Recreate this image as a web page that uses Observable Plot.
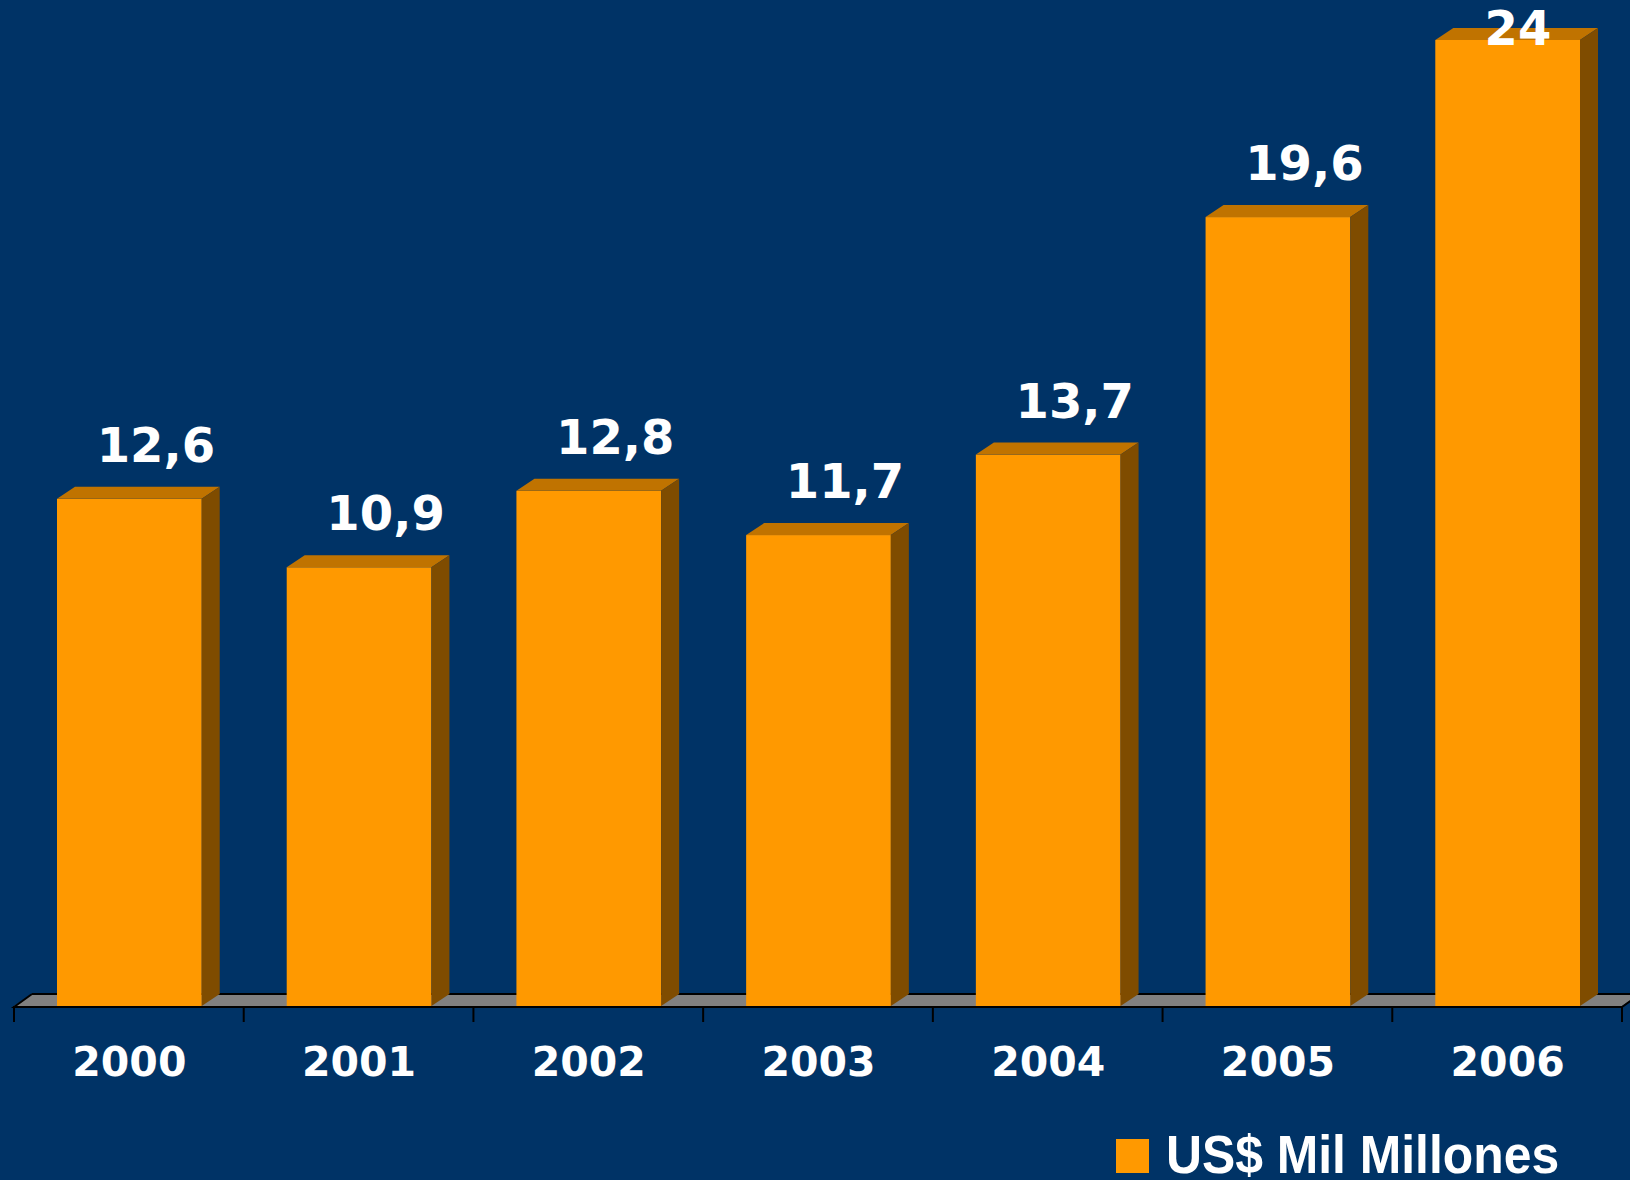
<!DOCTYPE html>
<html><head><meta charset="utf-8">
<script src="https://cdn.jsdelivr.net/npm/d3@7"></script>
<script src="https://cdn.jsdelivr.net/npm/@observablehq/plot@0.6"></script>
<style>
html,body{margin:0;padding:0;background:#003366;width:1630px;height:1180px;overflow:hidden}
#chart{position:absolute;left:0;top:0}
#legend{position:absolute;left:0;top:1100px;width:1630px;height:80px}
.sw{position:absolute;left:1116px;top:39px;width:33px;height:34px;background:#FF9900}
.lt{position:absolute;left:1166px;top:32.5px;font:bold 53px "Liberation Sans",Arial,sans-serif;line-height:44px;color:#fff;transform:scaleX(0.94);transform-origin:0 0;white-space:nowrap}
</style></head><body>
<div id="chart"></div>
<div id="legend"><div class="sw"></div><div class="lt" id="legendText"></div></div>
<script>
// ---- data ----
const years = ["2000", "2001", "2002", "2003", "2004", "2005", "2006"];
const values = [12.6, 10.9, 12.8, 11.7, 13.7, 19.6, 24];
const valueLabels = ["12,6", "10,9", "12,8", "11,7", "13,7", "19,6", "24"];
const seriesName = "US$ Mil Millones";

const data = years.map((year, i) => ({year, value: values[i], label: valueLabels[i]}));

// ---- styling ----
const DX = 18, DY = 12;
const FRONT = "#FF9900", TOP = "#C07300", SIDE = "#7F4C00", FLOOR = "#808080";
const INSET_L = 43, INSET_R = 42;

function geom(scales) {
  const x = scales.x, y = scales.y;
  const step = x(years[1]) - x(years[0]);
  const x0 = x(years[0]);
  const x1 = x(years[years.length - 1]) + step;
  return {x, y, step, x0, x1, y0: y(0)};
}

function floorMark(index, scales) {
  const {x0, x1, y0} = geom(scales);
  const g = d3.create("svg:g");
  g.append("path")
    .attr("d", `M${x0},${y0}L${x1},${y0}L${x1 + DX},${y0 - DY}L${x0 + DX},${y0 - DY}Z`)
    .attr("fill", FLOOR);
  g.append("path")
    .attr("d", `M${x0 + DX},${y0 - DY}L${x1 + DX},${y0 - DY}`)
    .attr("fill", "none").attr("stroke", "#000").attr("stroke-width", 2);
  return g.node();
}

function baseMark(index, scales) {
  const {x, x0, x1, y0} = geom(scales);
  const g = d3.create("svg:g");
  g.append("path")
    .attr("d", `M${x1 + DX},${y0 - DY}L${x1},${y0 + 1}L${x0},${y0 + 1}L${x0 + DX},${y0 - DY}`)
    .attr("fill", "none").attr("stroke", "#000").attr("stroke-width", 2);
  const bounds = years.map(d => x(d)).concat([x1]);
  bounds.forEach(b => {
    g.append("line").attr("x1", b).attr("x2", b).attr("y1", y0).attr("y2", y0 + 16)
      .attr("stroke", "#000").attr("stroke-width", 2);
  });
  return g.node();
}

function facesMark(index, scales) {
  const {x, y, step, y0} = geom(scales);
  const g = d3.create("svg:g");
  data.forEach(d => {
    const xl = x(d.year) + INSET_L, xr = x(d.year) + step - INSET_R, yt = y(d.value);
    g.append("path")
      .attr("d", `M${xl},${yt}L${xr},${yt}L${xr + DX},${yt - DY}L${xl + DX},${yt - DY}Z`)
      .attr("fill", TOP);
    g.append("path")
      .attr("d", `M${xr},${yt}L${xr + DX},${yt - DY}L${xr + DX},${y0 - DY}L${xr},${y0}Z`)
      .attr("fill", SIDE);
  });
  return g.node();
}

function labelsMark(index, scales) {
  const {x, y, step, x1} = geom(scales);
  const g = d3.create("svg:g");
  data.forEach(d => {
    const cx = x(d.year) + step / 2;
    const lx = Math.min(cx + 27, x1 - 104);
    const ly = Math.max(y(d.value) - 37, 45);
    g.append("text")
      .attr("x", lx).attr("y", ly)
      .attr("text-anchor", "middle")
      .attr("fill", "#fff")
      .attr("font-size", 48)
      .attr("font-weight", "bold")
      .attr("font-family", "'DejaVu Sans', Verdana, sans-serif")
      .text(d.label);
  });
  return g.node();
}

const chart = Plot.plot({
  width: 1630,
  height: 1100,
  marginLeft: 14,
  marginRight: 8,
  marginTop: 40,
  marginBottom: 94,
  x: {type: "band", domain: years, padding: 0, round: false, label: null},
  y: {domain: [0, 24], axis: null},
  style: {background: "#003366", fontFamily: "'DejaVu Sans', Verdana, sans-serif", color: "white", overflow: "hidden"},
  marks: [
    floorMark,
    Plot.barY(data, {x: "year", y: "value", fill: FRONT, insetLeft: INSET_L, insetRight: INSET_R}),
    facesMark,
    baseMark,
    labelsMark,
    Plot.axisX({tickSize: 0, tickPadding: 40, fontSize: 41, fontWeight: "bold", fill: "white", label: null})
  ]
});
document.getElementById("chart").append(chart);
document.getElementById("legendText").textContent = seriesName;
</script>
</body></html>
